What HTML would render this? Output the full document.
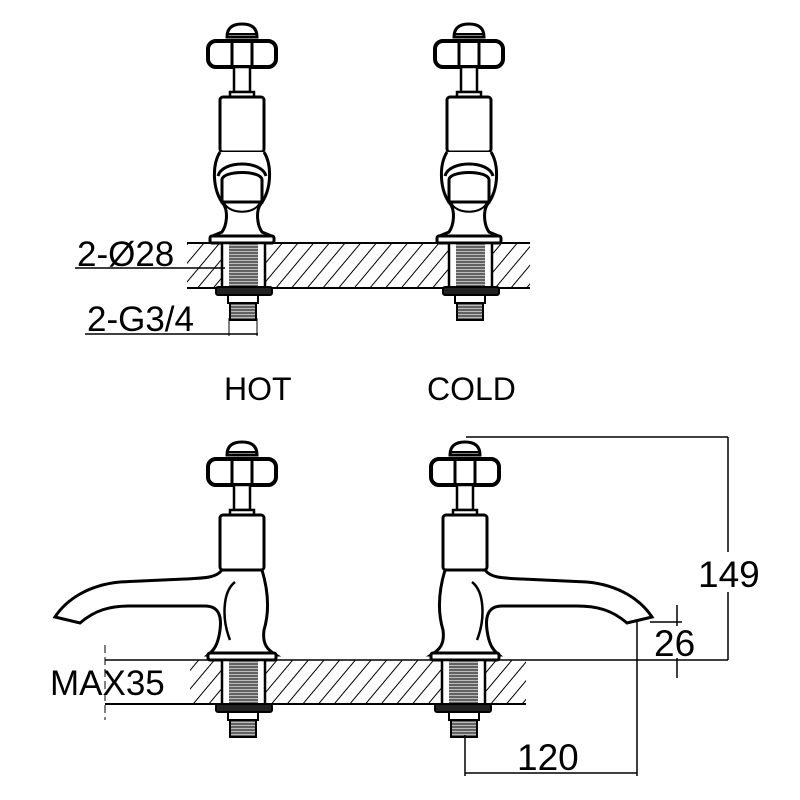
<!DOCTYPE html>
<html><head><meta charset="utf-8"><style>
html,body{margin:0;padding:0;background:#fff;}
svg{display:block;}
text{font-family:"Liberation Sans",sans-serif;fill:#000;}
</style></head><body>
<svg width="800" height="800" viewBox="0 0 800 800" xmlns="http://www.w3.org/2000/svg">
<defs>
<pattern id="h" patternUnits="userSpaceOnUse" width="12" height="12" patternTransform="rotate(40)">
<line x1="0" y1="0" x2="0" y2="12" stroke="#000" stroke-width="2"/>
</pattern>
<pattern id="t" patternUnits="userSpaceOnUse" width="4" height="3">
<rect width="4" height="3" fill="#bbb"/>
<line x1="0" y1="1" x2="4" y2="1" stroke="#333" stroke-width="1.3"/>
</pattern>
<g id="head" fill="#fff" stroke="#000" stroke-width="3">
<path d="M-15,37 Q-15,24 0,24 Q15,24 15,37 Z"/>
<line x1="-15" y1="34" x2="15" y2="34" stroke-width="2"/>
<rect x="-34" y="41" width="68" height="26" rx="8" stroke-width="4"/>
<line x1="-10" y1="41" x2="-10" y2="67"/>
<line x1="10" y1="41" x2="10" y2="67"/>
<rect x="-8" y="67" width="16" height="25" stroke-width="2.5"/>
<rect x="-12" y="92" width="24" height="5" stroke-width="2.5"/>
<rect x="-22" y="97" width="44" height="55" rx="3"/>
</g>
<g id="shank" stroke="#000" fill="#fff">
<rect x="-20" y="0" width="43" height="45" stroke-width="2.5"/>
<rect x="-13" y="1" width="29" height="43" fill="url(#t)" stroke="none"/>
<rect x="-26" y="44" width="56" height="8" rx="2" fill="#222" stroke-width="2"/>
<rect x="-14" y="52" width="30" height="8" stroke-width="2"/>
<rect x="-12" y="60" width="26" height="17" fill="url(#t)" stroke-width="2"/>
</g>
</defs>

<rect x="187" y="243" width="343" height="45" fill="url(#h)"/>
<line x1="187" y1="243" x2="530" y2="243" stroke="#000" stroke-width="2"/>
<line x1="187" y1="288" x2="530" y2="288" stroke="#000" stroke-width="2"/>

<g transform="translate(242,0)">
<use href="#head"/>
<path d="M-22,152 C-30,165 -30,190 -18,205 C-14,212 -15,225 -20,232 L-32,237 L32,237 L20,232 C15,225 14,212 18,205 C30,190 30,165 22,152" fill="#fff" stroke="#000" stroke-width="3"/>
<path d="M-24,176 C-20,160 20,160 24,176" fill="none" stroke="#000" stroke-width="3"/>
<path d="M-20,202 L-20,180 C-20,170 20,170 20,180 L20,202 Z" fill="#fff" stroke="#000" stroke-width="3"/>
<path d="M-18,202 C-14,215 14,215 18,202" fill="none" stroke="#000" stroke-width="2"/>
<rect x="-32" y="236" width="64" height="7" rx="2" fill="#fff" stroke="#000" stroke-width="3"/>
<use href="#shank" transform="translate(0,243)"/>
</g>
<g transform="translate(469,0)">
<use href="#head"/>
<path d="M-22,152 C-30,165 -30,190 -18,205 C-14,212 -15,225 -20,232 L-32,237 L32,237 L20,232 C15,225 14,212 18,205 C30,190 30,165 22,152" fill="#fff" stroke="#000" stroke-width="3"/>
<path d="M-24,176 C-20,160 20,160 24,176" fill="none" stroke="#000" stroke-width="3"/>
<path d="M-20,202 L-20,180 C-20,170 20,170 20,180 L20,202 Z" fill="#fff" stroke="#000" stroke-width="3"/>
<path d="M-18,202 C-14,215 14,215 18,202" fill="none" stroke="#000" stroke-width="2"/>
<rect x="-32" y="236" width="64" height="7" rx="2" fill="#fff" stroke="#000" stroke-width="3"/>
<use href="#shank" transform="translate(0,243)"/>
</g>

<text x="77" y="266" font-size="35">2-Ø28</text>
<line x1="75" y1="268" x2="225" y2="268" stroke="#000" stroke-width="1.5"/>
<text x="87" y="331" font-size="35">2-G3/4</text>
<line x1="85" y1="334" x2="258" y2="334" stroke="#000" stroke-width="1.5"/>
<line x1="229" y1="318" x2="229" y2="336" stroke="#000" stroke-width="1"/>
<line x1="257" y1="318" x2="257" y2="336" stroke="#000" stroke-width="1"/>

<text x="224" y="400" font-size="32">HOT</text>
<text x="427" y="400" font-size="32">COLD</text>

<rect x="190" y="660" width="336" height="44" fill="url(#h)"/>
<line x1="105" y1="660" x2="728" y2="660" stroke="#000" stroke-width="1.5"/>
<line x1="105" y1="704" x2="526" y2="704" stroke="#000" stroke-width="2"/>
<line x1="105" y1="645" x2="105" y2="720" stroke="#000" stroke-width="1" stroke-dasharray="8,4"/>
<text x="50" y="695" font-size="35">MAX35</text>

<g id="side">
<use href="#head" transform="translate(242,418)"/>
<path d="M222,570 C216,578 205,578 185,579 L120,582 C88,585 66,600 55,617 L80,623 C95,610 110,606 130,606 L205,606 C218,606 222,615 220,630 C218,645 214,650 208,655 L276,655 C268,650 262,645 264,630 C270,610 268,590 262,570 Z" fill="#fff" stroke="#000" stroke-width="3"/>
<path d="M235,582 C222,592 222,620 230,640" fill="none" stroke="#000" stroke-width="2.5"/>
<rect x="208" y="653" width="68" height="7" rx="2" fill="#fff" stroke="#000" stroke-width="3"/>
<use href="#shank" transform="translate(242,660)"/>
</g>
<use href="#side" transform="matrix(-1,0,0,1,707,0)"/>

<line x1="466" y1="437" x2="728" y2="437" stroke="#000" stroke-width="1.5"/>
<line x1="728" y1="437" x2="728" y2="660" stroke="#000" stroke-width="1.5"/>
<rect x="695" y="552" width="72" height="40" fill="#fff"/>
<text x="698" y="587" font-size="37">149</text>
<line x1="650" y1="622" x2="682" y2="622" stroke="#000" stroke-width="1.5"/>
<line x1="677" y1="605" x2="677" y2="678" stroke="#000" stroke-width="1.5"/>
<rect x="654" y="626" width="42" height="32" fill="#fff"/>
<text x="654" y="656" font-size="37">26</text>
<line x1="637" y1="622" x2="637" y2="776" stroke="#000" stroke-width="1.5"/>
<line x1="465" y1="735" x2="465" y2="776" stroke="#000" stroke-width="1.5"/>
<line x1="465" y1="773" x2="637" y2="773" stroke="#000" stroke-width="1.5"/>
<text x="517" y="770" font-size="37">120</text>
</svg>
</body></html>
